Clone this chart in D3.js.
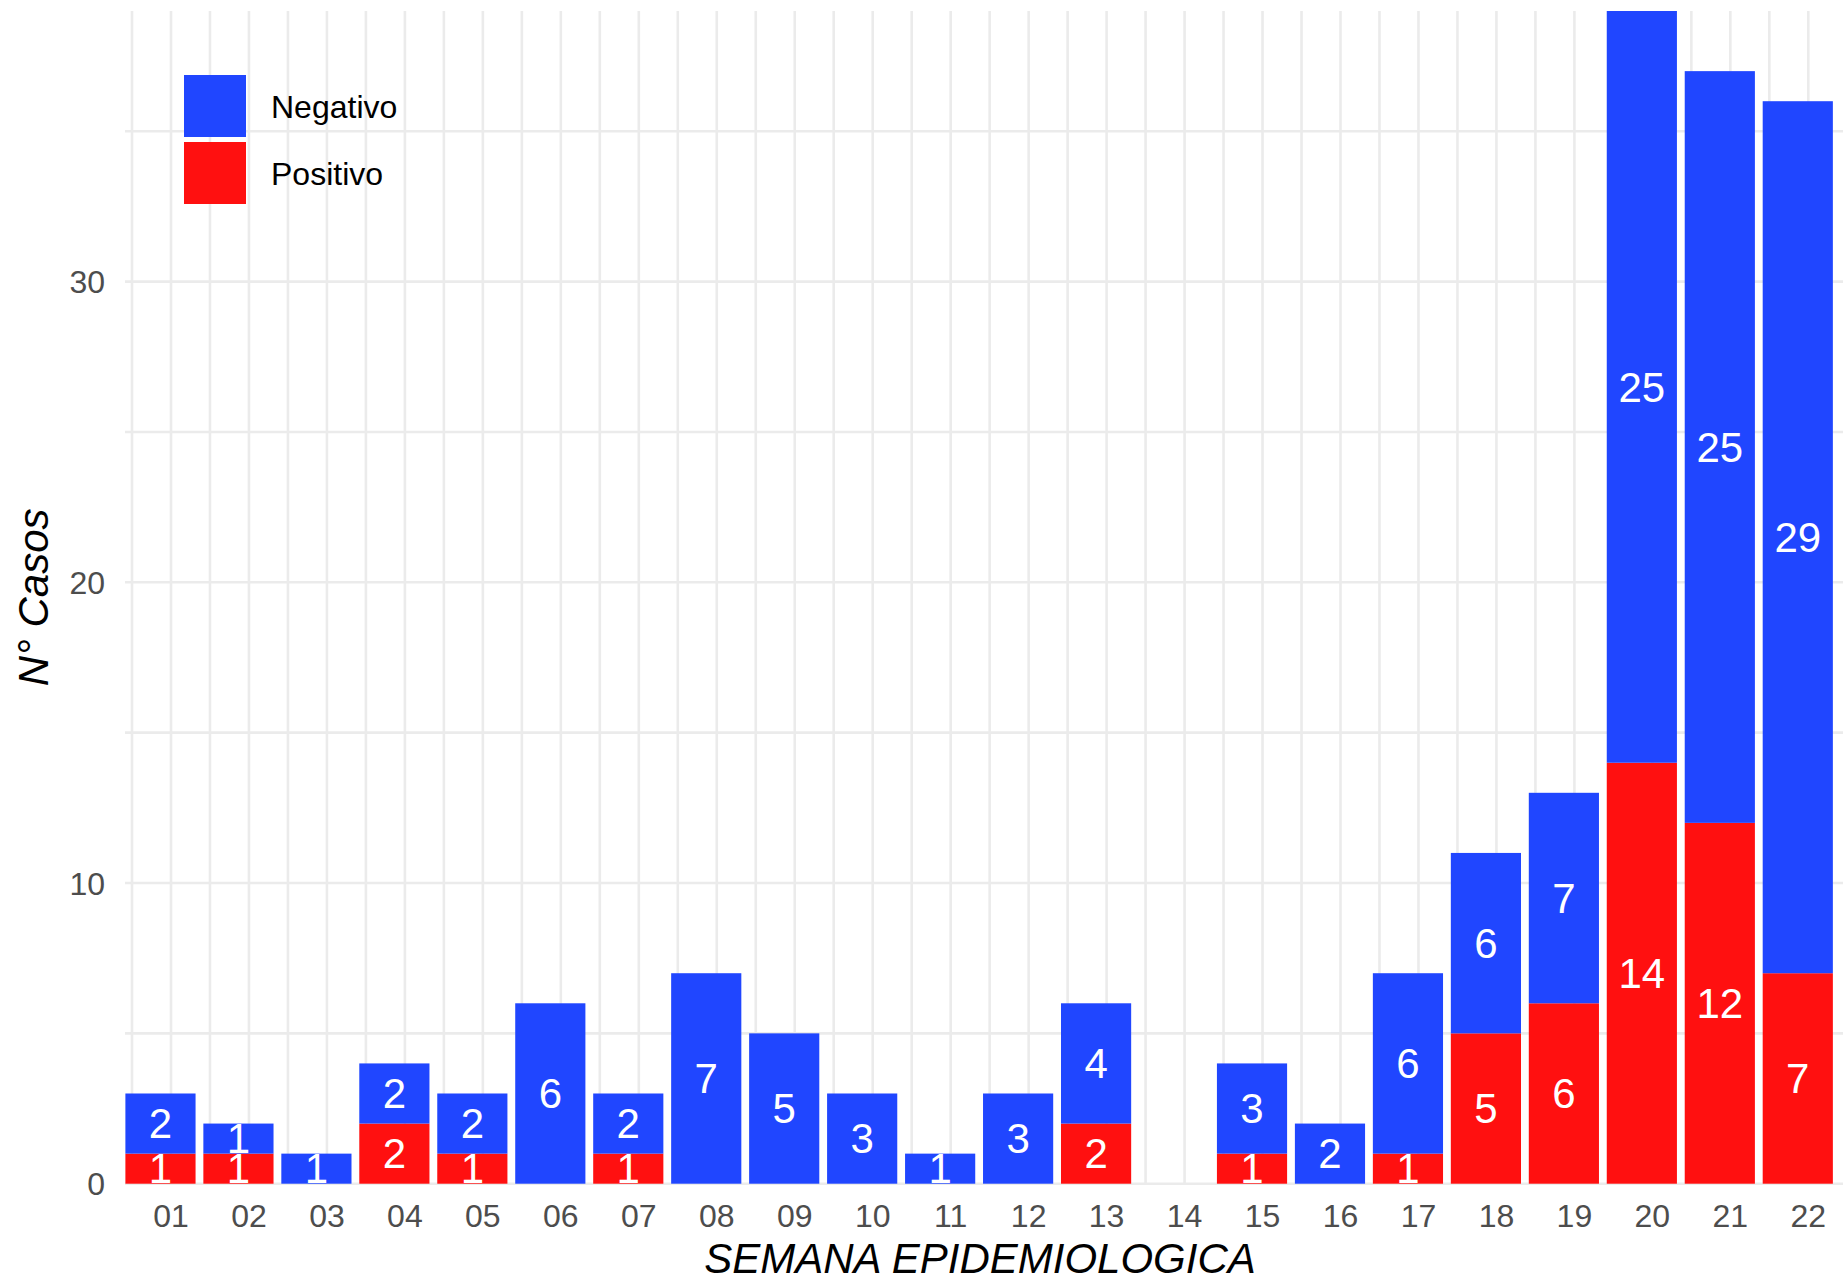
<!DOCTYPE html>
<html>
<head>
<meta charset="utf-8">
<script src="https://cdn.jsdelivr.net/npm/d3@7"></script>
<style>
  body { margin: 0; background: #fff; }
  svg { display: block; font-family: "Liberation Sans", Arial, sans-serif; }
</style>
</head>
<body>
<div id="chart"></div>
<script>
// Data
const weeks = ["01","02","03","04","05","06","07","08","09","10","11","12","13","14","15","16","17","18","19","20","21","22"];
const positivo = [1,1,0,2,1,0,1,0,0,0,0,0,2,0,1,0,1,5,6,14,12,7];
const negativo = [2,1,1,2,2,6,2,7,5,3,1,3,4,0,3,2,6,6,7,25,25,29];
const yTicks = [0, 10, 20, 30];
const seriesNames = ["Negativo", "Positivo"];

// Chart dimensions
const W = 1843, H = 1278;
const margin = { top: 11, right: 0, bottom: 94, left: 125 };

const colors = {
  Negativo: "#2046FF",
  Positivo: "#FF1010",
  grid: "#EBEBEB",
  axisText: "#4D4D4D",
  title: "#000000"
};

const svg = d3.select("#chart").append("svg")
    .attr("width", W)
    .attr("height", H);

// Scales (x is the week number; bars sit slightly left of the ticks, as in the original)
const x = d3.scaleLinear().domain([0.41, 22.445]).range([margin.left, W - margin.right]);
const y = d3.scaleLinear().domain([0, 39]).range([H - margin.bottom - 0.3, margin.top]);
const barShift = -0.135, barWidth = 0.9;

// Stack: Positivo at the bottom, Negativo above
const rows = weeks.map((w, i) => ({ week: i + 1, Positivo: positivo[i], Negativo: negativo[i] }));
const stack = d3.stack().keys(["Positivo", "Negativo"])(rows);

// Grid
const grid = svg.append("g");
grid.selectAll(".hgrid")
    .data(d3.range(0, 40, 5))
  .enter().append("line")
    .attr("x1", margin.left).attr("x2", W - margin.right)
    .attr("y1", d => y(d)).attr("y2", d => y(d))
    .attr("stroke", colors.grid).attr("stroke-width", 2.6);
grid.selectAll(".vgrid")
    .data(d3.range(0.5, 22.5, 0.5))
  .enter().append("line")
    .attr("x1", d => x(d)).attr("x2", d => x(d))
    .attr("y1", margin.top).attr("y2", y(0))
    .attr("stroke", colors.grid).attr("stroke-width", 2.6);

// Bars
const layers = svg.append("g").selectAll("g")
    .data(stack)
  .enter().append("g")
    .attr("fill", d => colors[d.key]);

layers.selectAll("rect")
    .data(d => d)
  .enter().append("rect")
    .attr("x", d => x(d.data.week + barShift - barWidth / 2))
    .attr("width", d => x(d.data.week + barShift + barWidth / 2) - x(d.data.week + barShift - barWidth / 2))
    .attr("y", d => y(d[1]))
    .attr("height", d => y(d[0]) - y(d[1]));

// Value labels
stack.forEach(layer => {
  svg.append("g").selectAll("text")
      .data(layer.filter(d => d[1] - d[0] > 0))
    .enter().append("text")
      .attr("x", d => x(d.data.week + barShift))
      .attr("y", d => y((d[0] + d[1]) / 2))
      .attr("dy", "0.35em")
      .attr("text-anchor", "middle")
      .style("font-size", "42px")
      .style("fill", "#fff")
      .text(d => d[1] - d[0]);
});

// Axis tick labels
svg.append("g").selectAll("text")
    .data(yTicks)
  .enter().append("text")
    .attr("x", 105)
    .attr("y", d => y(d))
    .attr("dy", "0.36em")
    .attr("text-anchor", "end")
    .style("font-size", "32px")
    .style("fill", colors.axisText)
    .text(d => d);

svg.append("g").selectAll("text")
    .data(weeks)
  .enter().append("text")
    .attr("x", (d, i) => x(i + 1))
    .attr("y", 1227)
    .attr("text-anchor", "middle")
    .style("font-size", "32px")
    .style("fill", colors.axisText)
    .text(d => d);

// Axis titles
svg.append("text")
    .attr("x", (margin.left + W - margin.right) / 2 - 4)
    .attr("y", 1273)
    .attr("text-anchor", "middle")
    .style("font-size", "42px")
    .style("font-style", "italic")
    .style("fill", colors.title)
    .text("SEMANA EPIDEMIOLOGICA");

svg.append("text")
    .attr("transform", `translate(48,${(margin.top + y(0)) / 2}) rotate(-90)`)
    .attr("text-anchor", "middle")
    .style("font-size", "42px")
    .style("font-style", "italic")
    .style("fill", colors.title)
    .text("N° Casos");

// Legend
const legend = svg.append("g").selectAll("g")
    .data(seriesNames)
  .enter().append("g")
    .attr("transform", (d, i) => `translate(184,${75 + i * 67})`);

legend.append("rect")
    .attr("width", 62)
    .attr("height", 62)
    .attr("fill", d => colors[d]);

legend.append("text")
    .attr("x", 87)
    .attr("y", 31)
    .attr("dy", "0.36em")
    .style("font-size", "32px")
    .style("fill", colors.title)
    .text(d => d);
</script>
</body>
</html>
